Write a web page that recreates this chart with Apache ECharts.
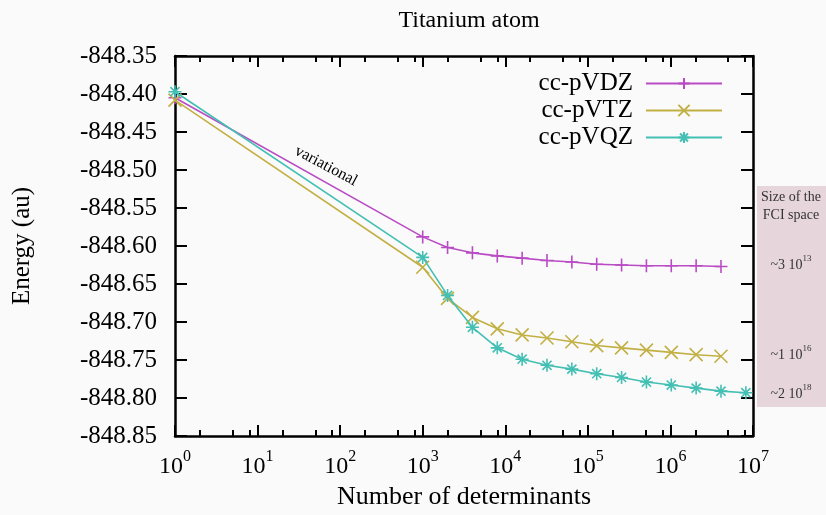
<!DOCTYPE html>
<html>
<head>
<meta charset="utf-8">
<script src="https://cdn.jsdelivr.net/npm/echarts@6/dist/echarts.min.js"></script>
<style>
  html, body { margin: 0; padding: 0; background: #fafafa; }
  #chart { width: 826px; height: 515px; }
</style>
</head>
<body>
<div id="chart"></div>
<script>
// ---- data ----
const titleText = 'Titanium atom';
const xName = 'Number of determinants';
const yName = 'Energy (au)';
const seriesNames = ['cc-pVDZ', 'cc-pVTZ', 'cc-pVQZ'];

const detVDZ = [1, 1000, 2000, 4000, 8000, 16000, 32000, 64000, 128000, 256000, 512000, 1024000, 2048000, 4096000];
const eVDZ   = [-848.405, -848.588, -848.602, -848.609, -848.613, -848.616, -848.619, -848.621, -848.624, -848.625, -848.626, -848.626, -848.626, -848.627];

const detVTZ = [1, 1000, 2000, 4000, 8000, 16000, 32000, 64000, 128000, 256000, 512000, 1024000, 2048000, 4096000];
const eVTZ   = [-848.408, -848.628, -848.669, -848.694, -848.709, -848.717, -848.721, -848.726, -848.731, -848.734, -848.737, -848.740, -848.743, -848.745];

const detVQZ = [1, 1000, 2000, 4000, 8000, 16000, 32000, 64000, 128000, 256000, 512000, 1024000, 2048000, 4096000, 8192000];
const eVQZ   = [-848.397, -848.615, -848.665, -848.707, -848.734, -848.749, -848.757, -848.762, -848.768, -848.773, -848.779, -848.783, -848.787, -848.791, -848.793];

const xMajorTicks = [1, 10, 100, 1000, 10000, 100000, 1000000, 10000000];
const xMinorTicks = [2, 5, 8, 20, 50, 80, 200, 500, 800, 2000, 5000, 8000, 20000, 50000, 80000,
                     200000, 500000, 800000, 2000000, 5000000, 8000000];
const yMin = -848.85, yMax = -848.35, yStep = 0.05;

const fciHeader = ['Size of the', 'FCI space'];
const fciMant = ['~3 10', '~1 10', '~2 10'];
const fciExp  = ['13', '16', '18'];
const annotation = 'variational';

// ---- styling ----
const colors = ['#b94cc4', '#c2b044', '#43bfb3'];
const symbols = [
  'path://M0,5L10,5M5,0L5,10',
  'path://M0,0L10,10M10,0L0,10',
  'path://M0,5L10,5M5,0L5,10M1.5,1.5L8.5,8.5M8.5,1.5L1.5,8.5'
];
const FONT = '"Liberation Serif", "DejaVu Serif", serif';

function pairs(xs, ys) { return xs.map((x, i) => [x, ys[i]]); }
const dataSets = [pairs(detVDZ, eVDZ), pairs(detVTZ, eVTZ), pairs(detVQZ, eVQZ)];

const chart = echarts.init(document.getElementById('chart'), null, { renderer: 'canvas' });

const axisLineStyle = { color: '#000', width: 2.5 };

function xAxisBase(extra) {
  return Object.assign({
    type: 'log', logBase: 10, min: 1, max: 10000000,
    gridIndex: 0,
    splitLine: { show: false },
    axisLine: { show: true, lineStyle: axisLineStyle },
    axisLabel: { show: false },
    axisTick: { show: true, inside: true, length: 11, lineStyle: { color: '#000', width: 2 }, customValues: xMajorTicks }
  }, extra);
}

const option = {
  backgroundColor: '#fafafa',
  animation: false,
  title: {
    text: titleText, left: 464, top: 4, textAlign: 'center',
    textStyle: { fontFamily: FONT, fontSize: 24, fontWeight: 'normal', color: '#000' }
  },
  grid: { left: 175, right: 73, top: 56, bottom: 79, containLabel: false },
  legend: {
    orient: 'vertical', right: 98, top: 66, align: 'right',
    itemWidth: 76, itemHeight: 14, itemGap: 2,
    data: seriesNames,
    textStyle: { fontFamily: FONT, fontSize: 25, color: '#000', padding: [0, 8, 0, 0] }
  },
  xAxis: [
    xAxisBase({
      position: 'bottom',
      name: xName, nameLocation: 'middle', nameGap: 46,
      nameTextStyle: { fontFamily: FONT, fontSize: 26, color: '#000' },
      axisLabel: {
        show: true, margin: 13, customValues: xMajorTicks,
        formatter: v => '{b|10}{s|' + Math.round(Math.log10(v)) + '}',
        rich: {
          b: { fontFamily: FONT, fontSize: 24, color: '#000', verticalAlign: 'bottom', lineHeight: 30 },
          s: { fontFamily: FONT, fontSize: 16, color: '#000', verticalAlign: 'top', lineHeight: 30 }
        }
      }
    }),
    xAxisBase({ position: 'top' }),
    xAxisBase({ position: 'bottom', axisLine: { show: false },
      axisTick: { show: true, inside: true, length: 6, lineStyle: { color: '#000', width: 2 }, customValues: xMinorTicks } }),
    xAxisBase({ position: 'top', axisLine: { show: false },
      axisTick: { show: true, inside: true, length: 6, lineStyle: { color: '#000', width: 2 }, customValues: xMinorTicks } })
  ],
  yAxis: [
    {
      type: 'value', min: yMin, max: yMax, interval: yStep, position: 'left',
      name: yName, nameLocation: 'middle', nameGap: 140, nameRotate: 90,
      nameTextStyle: { fontFamily: FONT, fontSize: 25, color: '#000' },
      splitLine: { show: false },
      axisLine: { show: true, lineStyle: axisLineStyle },
      axisTick: { show: true, inside: true, length: 12, lineStyle: { color: '#000', width: 2 } },
      axisLabel: { margin: 18, formatter: v => v.toFixed(2), fontFamily: FONT, fontSize: 25, color: '#000' }
    },
    {
      type: 'value', min: yMin, max: yMax, interval: yStep, position: 'right',
      splitLine: { show: false },
      axisLine: { show: true, lineStyle: axisLineStyle },
      axisTick: { show: true, inside: true, length: 12, lineStyle: { color: '#000', width: 2 } },
      axisLabel: { show: false }
    }
  ],
  series: seriesNames.map((name, i) => ({
    name: name, type: 'line', xAxisIndex: 0, yAxisIndex: 0,
    data: dataSets[i],
    symbol: symbols[i], symbolSize: 13, showSymbol: true,
    lineStyle: { color: colors[i], width: 1.6 },
    itemStyle: { color: colors[i], borderColor: colors[i], borderWidth: 1.6 },
    emphasis: { disabled: true },
    z: 3 + i
  }))
};
chart.setOption(option);

// ---- annotations ----
const fciY = [263, 353, 392];
const graphics = [
  { type: 'rect', shape: { x: 757, y: 186, width: 69, height: 221 }, style: { fill: '#e6d6dc' }, z: 1 },
  { type: 'text', x: 791, y: 197, style: { text: fciHeader[0], font: '14px ' + FONT, fill: '#333', textAlign: 'center', textVerticalAlign: 'middle' }, z: 2 },
  { type: 'text', x: 791, y: 215, style: { text: fciHeader[1], font: '14px ' + FONT, fill: '#333', textAlign: 'center', textVerticalAlign: 'middle' }, z: 2 }
];
fciMant.forEach((m, i) => {
  graphics.push({
    type: 'text', x: 791, y: fciY[i], z: 2,
    style: {
      text: '{m|' + m + '}{e|' + fciExp[i] + '}',
      rich: {
        m: { fontFamily: FONT, fontSize: 14, fill: '#333', verticalAlign: 'bottom', lineHeight: 18 },
        e: { fontFamily: FONT, fontSize: 9, fill: '#333', verticalAlign: 'top', lineHeight: 18 }
      },
      textAlign: 'center', textVerticalAlign: 'middle'
    }
  });
});
graphics.push({
  type: 'text', x: 326, y: 166, rotation: -28 * Math.PI / 180, z: 5,
  style: { text: annotation, font: '16px ' + FONT, fill: '#000', textAlign: 'center', textVerticalAlign: 'middle' }
});
chart.setOption({ graphic: graphics });
</script>
</body>
</html>
